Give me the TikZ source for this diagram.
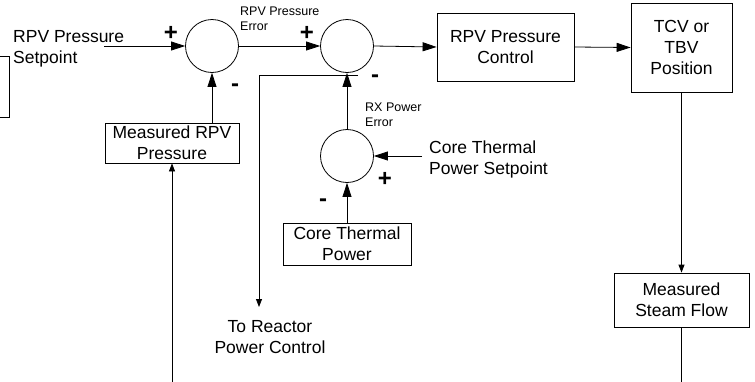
\documentclass[tikz,border=0pt]{standalone}
\usepackage{fontspec}
\setmainfont{Liberation Sans}
\usetikzlibrary{arrows.meta,calc}
\begin{document}
\begin{tikzpicture}[x=1pt,y=-1pt,
  big/.style={font=\fontsize{17.5}{21}\selectfont},
  small/.style={font=\fontsize{12.5}{15}\selectfont},
  sgn/.style={font=\fontsize{24}{24}\selectfont\bfseries, inner sep=0pt},
  blk/.style={draw, line width=0.8pt, rectangle, align=center, inner sep=0pt, big},
  sumpt/.style={draw, line width=0.8pt, circle, minimum size=53pt, inner sep=0pt},
  conn/.style={line width=0.8pt},
  bigarr/.style={conn, -{Triangle[length=14pt,width=9pt]}},
  smallarr/.style={conn, -{Triangle[length=8pt,width=6pt]}},
]
\useasboundingbox (0,0) rectangle (755,381);
% partial box at left edge
\node[draw, line width=0.8pt, minimum width=40pt, minimum height=61pt, inner sep=0pt] (lb) at (-11,86.5) {};
% summing points
\node[sumpt] (s1) at (212,46) {};
\node[sumpt] (s2) at (347,46) {};
\node[sumpt] (s3) at (347,156) {};
% blocks
\node[blk, minimum width=137pt, minimum height=68pt] (ctrl) at (505.5,47) {RPV Pressure\\Control};
\node[blk, minimum width=101pt, minimum height=89pt] (tcv) at (681.5,47.5) {TCV or\\TBV\\Position};
\node[blk, minimum width=135pt, minimum height=54pt] (msf) at (681.5,300) {Measured\\Steam Flow};
\node[blk, minimum width=134pt, minimum height=40pt] (mrpv) at (172,143) {Measured RPV\\Pressure};
\node[blk, minimum width=128pt, minimum height=42pt] (ctp) at (347,244) {Core Thermal\\Power};
% texts
\node[big, align=left, anchor=west, inner sep=0pt] (spt) at (13,49) {RPV Pressure\\Setpoint};
\node[big, align=left, anchor=west, inner sep=0pt] (cts) at (429,159) {Core Thermal\\Power Setpoint};
\node[big, align=center, inner sep=0pt] (trpc) at (270,337) {To Reactor\\Power Control};
\node[small, align=left, anchor=west, inner sep=0pt] (rpe) at (240,18.5) {RPV Pressure\\Error};
\node[small, align=left, anchor=west, inner sep=0pt] (rxe) at (365,114.5) {RX Power\\Error};
% signs
\node[sgn] (p1) at (171,33) {+};
\node[sgn] (m1) at (235,88) {-};
\node[sgn] (p2) at (307,33) {+};
\node[sgn] (m2) at (375,79) {-};
\node[sgn] (p3) at (385,179) {+};
\node[sgn] (m3) at (323,203) {-};
% free ends
\coordinate (spin) at (104,46);
\coordinate (ctsin) at (422,156);
\coordinate (tapR) at (358,75);
\coordinate (tapL) at (259,75);
\coordinate (tapE) at (259,307);
\coordinate (bL) at (172,385);
\coordinate (bR) at (681.5,385);
% connectors
\draw[bigarr] (spin) -- (s1.west);
\draw[bigarr] (s1.east) -- (s2.west);
\draw[bigarr] (s2.east) -- (ctrl.west);
\draw[bigarr] (ctrl.east) -- (tcv.west);
\draw[bigarr] (s1 |- mrpv.north) -- (s1.south);
\draw[bigarr] (s3.north) -- (s2.south);
\draw[bigarr] (ctp.north) -- (s3.south);
\draw[bigarr] (ctsin) -- (s3.east);
\draw[smallarr] (tcv.south) -- (msf.north);
\draw[conn] (msf.south) -- (bR);
\draw[smallarr] (bL) -- (mrpv.south);
\draw[smallarr] (tapR) -- (tapL) -- (tapE);
\end{tikzpicture}
\end{document}
